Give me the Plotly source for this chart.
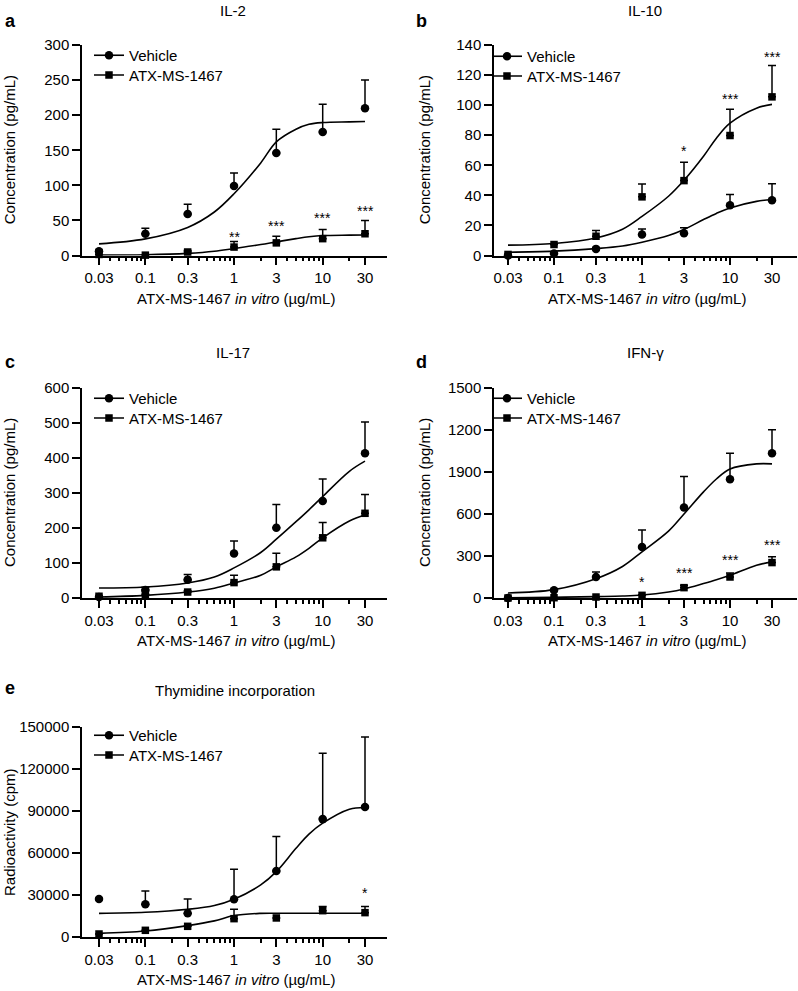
import math
import plotly.graph_objects as go

W, H = 798, 991
FONT = "Liberation Sans, Arial, sans-serif"

# ---------------- data ----------------
doses = [0.03, 0.1, 0.3, 1, 3, 10, 30]
dose_labels = ["0.03", "0.1", "0.3", "1", "3", "10", "30"]
minor_doses = [0.04, 0.05, 0.06, 0.07, 0.08, 0.09, 0.2,
               0.4, 0.5, 0.6, 0.7, 0.8, 0.9, 2,
               4, 5, 6, 7, 8, 9, 20]
curve_doses = [0.03, 0.1, 0.3, 0.6, 1, 2, 3, 5, 7, 10, 20, 30]

# IL-2
il2_veh = [6, 31, 59, 99, 146, 176, 210]
il2_veh_sd = [2, 8, 14, 18.5, 34, 39.6, 40]
il2_atx = [1.5, 0.5, 5, 12, 18, 24, 31]
il2_atx_sd = [0, 0, 2, 8, 9.5, 13, 19]
il2_veh_fit = [16.6, 23.7, 40, 62, 88, 132, 162, 180, 187, 189.5, 190.5, 191]
il2_atx_fit = [0.5, 1, 3, 6, 10, 15.6, 19.4, 24, 26.7, 28.4, 29, 29.2]
il2_star_doses = [1, 3, 10, 30]
il2_star_text = ["**", "***", "***", "***"]
il2_star_y = [26.5, 41.7, 53.5, 64]

# IL-10
il10_veh = [0, 1.3, 4.4, 14, 14.8, 33.4, 36.7]
il10_veh_sd = [0, 0, 1, 3.7, 3.6, 7.1, 11.1]
il10_atx = [0.7, 7.3, 12.8, 39, 49.8, 79.8, 105.5]
il10_atx_sd = [0, 0.5, 3.8, 8.6, 12.2, 17.5, 20.8]
il10_veh_fit = [2.2, 2.9, 4.6, 6.3, 8.8, 13.3, 17.3, 23.9, 28, 31.6, 36, 37.2]
il10_atx_fit = [6.9, 8, 11.7, 17.5, 26, 39.4, 50, 66, 78, 88, 98, 100.5]
il10_star_doses = [3, 10, 30]
il10_star_text = ["*", "***", "***"]
il10_star_y = [69.2, 104.2, 132.3]

# IL-17
il17_veh = [3, 23, 52.5, 127, 200.6, 277, 413.6]
il17_veh_sd = [1, 8, 14.5, 36, 66.4, 63, 89]
il17_atx = [5, 9, 17, 44, 89, 172, 242]
il17_atx_sd = [0, 2, 4, 21, 39, 44, 54]
il17_veh_fit = [28.7, 31.5, 43, 60, 86, 130, 168, 218, 252, 290, 362, 391]
il17_atx_fit = [3, 7.6, 17, 28, 43, 65, 89, 117.5, 142, 172, 220, 237]

# IFN-gamma
ifn_veh = [0, 55, 150, 365, 647, 848, 1034]
ifn_veh_sd = [0, 5, 36, 120, 220, 186, 167]
ifn_atx = [0, 2, 7, 19, 74, 150, 253]
ifn_atx_sd = [0, 0, 2, 5, 16, 29, 41]
ifn_veh_fit = [36, 60, 138, 225, 330, 478, 600, 758, 850, 922, 958, 958]
ifn_atx_fit = [2, 5, 10, 14, 21, 43, 64.5, 103, 130, 162, 234, 258]
ifn_star_doses = [1, 3, 10, 30]
ifn_star_text = ["*", "***", "***", "***"]
ifn_star_y = [116, 179, 270, 382]

# Thymidine incorporation
thy_veh = [27200, 23400, 16900, 27000, 47200, 84200, 92800]
thy_veh_sd = [0, 9500, 10300, 21400, 24600, 47000, 50100]
thy_atx = [2150, 4770, 7630, 13100, 13600, 18800, 17400]
thy_atx_sd = [0, 0, 0, 6700, 0, 2900, 4300]
thy_veh_fit = [16900, 17650, 19800, 22500, 27000, 37200, 46700, 63400, 73500, 81300, 91300, 92500]
thy_atx_fit = [2600, 4300, 8100, 11500, 15300, 16900, 17000, 17000, 17000, 17000, 17000, 17000]
thy_star_doses = [30]
thy_star_text = ["*"]
thy_star_y = [31240]

series_names = ["Vehicle", "ATX-MS-1467"]
panel_titles = ["IL-2", "IL-10", "IL-17", "IFN-γ", "Thymidine incorporation"]
panel_letters = ["a", "b", "c", "d", "e"]
y_titles = ["Concentration (pg/mL)"] * 4 + ["Radioactivity (cpm)"]
x_title = "ATX-MS-1467 <i>in vitro</i> (µg/mL)"

il2_yticks = [0, 50, 100, 150, 200, 250, 300]
il10_yticks = [0, 20, 40, 60, 80, 100, 120, 140]
il17_yticks = [0, 100, 200, 300, 400, 500, 600]
ifn_yticks = [0, 300, 600, 900, 1200, 1500]
ifn_ytick_labels = ["0", "300", "600", "1900", "1200", "1500"]
thy_yticks = [0, 30000, 60000, 90000, 120000, 150000]

# ---------------- layout geometry (pixels) ----------------
def fx(px):
    return px / W

def fy(py):
    return 1 - py / H

LEFT_COL = dict(x0=82, x1=387, t03=99, t30=365)
RIGHT_COL = dict(x0=494, x1=797, t03=508, t30=772)

panels = [
    dict(col=LEFT_COL, y0=45, y1=255.5, yr=300, yt=il2_yticks, ytl=None,
         veh=il2_veh, vsd=il2_veh_sd, atx=il2_atx, asd=il2_atx_sd,
         vfit=il2_veh_fit, afit=il2_atx_fit,
         stars=(il2_star_doses, il2_star_text, il2_star_y),
         title_xy=(233, 10), letter_xy=(10, 21), ytitle_x=9,
         leg_text=(128, 56)),
    dict(col=RIGHT_COL, y0=45, y1=255.5, yr=140, yt=il10_yticks, ytl=None,
         veh=il10_veh, vsd=il10_veh_sd, atx=il10_atx, asd=il10_atx_sd,
         vfit=il10_veh_fit, afit=il10_atx_fit,
         stars=(il10_star_doses, il10_star_text, il10_star_y),
         title_xy=(645, 10), letter_xy=(421, 21), ytitle_x=424,
         leg_text=(526, 57)),
    dict(col=LEFT_COL, y0=388, y1=598, yr=600, yt=il17_yticks, ytl=None,
         veh=il17_veh, vsd=il17_veh_sd, atx=il17_atx, asd=il17_atx_sd,
         vfit=il17_veh_fit, afit=il17_atx_fit,
         stars=None,
         title_xy=(233, 352), letter_xy=(10, 362), ytitle_x=9,
         leg_text=(128, 399)),
    dict(col=RIGHT_COL, y0=388, y1=598, yr=1500, yt=ifn_yticks, ytl=ifn_ytick_labels,
         veh=ifn_veh, vsd=ifn_veh_sd, atx=ifn_atx, asd=ifn_atx_sd,
         vfit=ifn_veh_fit, afit=ifn_atx_fit,
         stars=(ifn_star_doses, ifn_star_text, ifn_star_y),
         title_xy=(645, 352), letter_xy=(421, 362), ytitle_x=424,
         leg_text=(526, 399)),
    dict(col=LEFT_COL, y0=727, y1=937, yr=150000, yt=thy_yticks, ytl=None,
         veh=thy_veh, vsd=thy_veh_sd, atx=thy_atx, asd=thy_atx_sd,
         vfit=thy_veh_fit, afit=thy_atx_fit,
         stars=(thy_star_doses, thy_star_text, thy_star_y),
         title_xy=(235, 690), letter_xy=(10, 688), ytitle_x=9,
         leg_text=(128, 736)),
]

LEG_SPACING = 19.7
LEG_DX = 39      # legend box left -> text start
LEG_DY = 17      # legend box top -> item centre

fig = go.Figure()
annotations = []
layout_axes = {}
legends = {}

symbols = ["circle", "square"]
msizes = [8.5, 7.5]

leg_count = 0
for i, p in enumerate(panels):
    n = i + 1
    sfx = "" if n == 1 else str(n)
    xa, ya = "x" + sfx, "y" + sfx
    col = p["col"]
    ppd = (col["t30"] - col["t03"]) / 3.0
    lo = math.log10(0.03) - (col["t03"] - col["x0"]) / ppd
    hi = math.log10(30) + (col["x1"] - col["t30"]) / ppd

    layout_axes["xaxis" + sfx] = dict(
        type="log", domain=[fx(col["x0"]), fx(col["x1"])], range=[lo, hi],
        anchor=ya, tickmode="array", tickvals=doses, ticktext=dose_labels,
        ticks="outside", ticklen=8, tickwidth=1.5, tickcolor="black",
        showline=True, linecolor="black", linewidth=1.5, showgrid=False,
        zeroline=False, automargin=False,
        tickfont=dict(size=15, color="black", family=FONT),
        minor=dict(tickmode="array", tickvals=minor_doses, ticks="outside",
                   ticklen=4, tickwidth=1.5, tickcolor="black", showgrid=False),
        fixedrange=True,
    )
    layout_axes["yaxis" + sfx] = dict(
        domain=[fy(p["y1"]), fy(p["y0"])], range=[0, p["yr"]], anchor=xa,
        tickmode="array", tickvals=p["yt"],
        ticktext=p["ytl"] if p["ytl"] else [str(v) for v in p["yt"]],
        ticks="outside", ticklen=8, tickwidth=1.5, tickcolor="black",
        showline=True, linecolor="black", linewidth=1.5, showgrid=False,
        zeroline=False, automargin=False,
        tickfont=dict(size=15, color="black", family=FONT),
        fixedrange=True,
    )

    # fitted curves
    for fit in (p["vfit"], p["afit"]):
        fig.add_trace(go.Scatter(
            x=curve_doses, y=fit, xaxis=xa, yaxis=ya, mode="lines",
            line=dict(color="black", width=1.6, shape="spline", smoothing=1.0),
            showlegend=False, hoverinfo="skip", cliponaxis=False))

    # points with upper error bars
    for k, (vals, sd) in enumerate(((p["veh"], p["vsd"]), (p["atx"], p["asd"]))):
        fig.add_trace(go.Scatter(
            x=doses, y=vals, xaxis=xa, yaxis=ya, mode="markers",
            marker=dict(symbol=symbols[k], size=msizes[k], color="black",
                        line=dict(width=0)),
            error_y=dict(type="data", symmetric=False, array=sd,
                         arrayminus=[0] * len(sd), color="black",
                         thickness=1.5, width=4),
            showlegend=False, cliponaxis=False))

    # legend entries (one legend box per entry for exact spacing)
    tx, ty = p["leg_text"]
    for k in range(2):
        leg_count += 1
        leg = "legend" if leg_count == 1 else "legend" + str(leg_count)
        fig.add_trace(go.Scatter(
            x=[None], y=[None], xaxis=xa, yaxis=ya, mode="lines+markers",
            name=series_names[k],
            marker=dict(symbol=symbols[k], size=msizes[k], color="black"),
            line=dict(color="black", width=1.6),
            legend=leg, showlegend=True))
        legends[leg] = dict(
            x=fx(tx - LEG_DX), y=fy(ty + k * LEG_SPACING - LEG_DY),
            xanchor="left", yanchor="top",
            bgcolor="rgba(0,0,0,0)", borderwidth=0, tracegroupgap=0,
            font=dict(size=15, color="black", family=FONT), itemwidth=30)

    # significance stars
    if p["stars"]:
        sd_, st_, sy_ = p["stars"]
        for d, t, yv in zip(sd_, st_, sy_):
            annotations.append(dict(
                x=math.log10(d), y=yv, xref=xa, yref=ya, text=t,
                showarrow=False, xanchor="center", yanchor="middle", yshift=0,
                font=dict(size=14, color="black", family=FONT)))

    # titles & letters
    annotations.append(dict(
        x=fx(p["title_xy"][0]), y=fy(p["title_xy"][1]), xref="paper", yref="paper",
        text=panel_titles[i], showarrow=False, xanchor="center", yanchor="middle",
        font=dict(size=15, color="black", family=FONT)))
    annotations.append(dict(
        x=fx(p["letter_xy"][0]), y=fy(p["letter_xy"][1]), xref="paper", yref="paper",
        text="<b>" + panel_letters[i] + "</b>", showarrow=False,
        xanchor="center", yanchor="middle",
        font=dict(size=18, color="black", family=FONT)))
    # y title
    annotations.append(dict(
        x=fx(p["ytitle_x"]), y=fy((p["y0"] + p["y1"]) / 2), xref="paper", yref="paper",
        text=y_titles[i], showarrow=False, textangle=-90,
        xanchor="center", yanchor="middle",
        font=dict(size=15, color="black", family=FONT)))
    # x title
    annotations.append(dict(
        x=fx((col["x0"] + col["x1"]) / 2 + 1), y=fy(p["y1"] + 42.5), xref="paper", yref="paper",
        text=x_title, showarrow=False, xanchor="center", yanchor="middle",
        font=dict(size=15, color="black", family=FONT)))

fig.update_layout(
    template="none",
    width=W, height=H, margin=dict(l=0, r=0, t=0, b=0, pad=0, autoexpand=False),
    paper_bgcolor="white", plot_bgcolor="white",
    font=dict(family=FONT, color="black", size=15),
    annotations=annotations, **layout_axes, **legends,
)

fig.write_html("out.html", config={"responsive": False, "displayModeBar": False},
               post_script="document.body.style.margin='0px';")
